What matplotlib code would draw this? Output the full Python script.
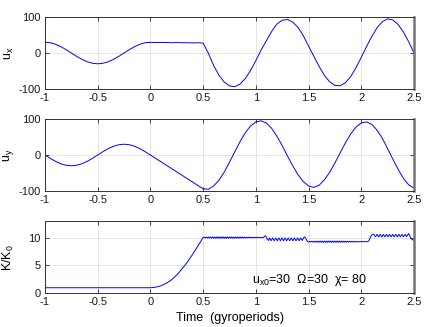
import numpy as np
import matplotlib.pyplot as plt

plt.rcParams['font.family'] = ['Liberation Sans', 'DejaVu Sans']
plt.rcParams['font.size'] = 8
plt.rcParams['axes.unicode_minus'] = False
plt.rcParams['mathtext.fontset'] = 'custom'
plt.rcParams['mathtext.rm'] = 'Liberation Sans'

# sampling times for the velocity components (gyroperiods)
t = np.linspace(-1.0, 2.5, 71)

ux = [30, 28.5, 24.3, 17.6, 9.3, 0, -9.3, -17.6, -24.3, -28.5,
      -30, -28.5, -24.3, -17.6, -9.3, 0, 9.3, 17.6, 24.3, 28.5,
      29.5, 29, 29.5, 29, 28.5, 29, 28.5, 28.5, 28, 28.5,
      27.5, -1, -35, -61.7, -80.6, -91.6, -93.6, -86.5, -71, -48.4,
      -21.1, 8.2, 34, 60, 80.6, 91, 93, 86, 71, 48,
      19, -9, -37, -62, -80, -90, -91.2, -82.5, -65, -40.7,
      -12, 18, 46, 70, 87, 94.8, 91.8, 79, 58, 31,
      0]

uy = [0, -9.3, -17.6, -24.3, -28.5, -30, -28.5, -24.3, -17.6, -9.3,
      0, 9.3, 17.6, 24.3, 28.5, 30, 28.5, 24.3, 17.6, 9.3,
      0, -9.4, -18.8, -28.2, -37.6, -47, -56.4, -65.8, -75.2, -84.6,
      -94, -95, -86, -70, -47.5, -20, 8.8, 37, 62, 80.6,
      92, 94.9, 88.7, 74, 52, 26, -3, -30, -55, -74,
      -86, -90, -84, -69, -48, -22, 6, 34, 58.7, 77.7,
      89, 92, 85, 69, 46, 17.6, -12, -40, -65, -83,
      -92]

# kinetic energy K/K0, stored piecewise: (start time, end time, values)
k_segments = [
    (-1.0, 0.5, [1.0, 1.0, 1.0, 1.0, 1.0, 1.0, 1.0, 1.0, 1.0, 1.0,
                 1.0, 1.0, 1.0, 1.0, 1.0, 1.0, 1.0, 1.0, 1.0, 1.0,
                 1.0, 1.1, 1.35, 1.8, 2.4, 3.3, 4.4, 5.6, 7.0, 8.5,
                 10.05]),
    (0.51, 1.07, [10.1, 9.95, 10.12, 9.93, 10.12, 9.92, 10.13, 9.9, 10.13, 9.9,
                  10.14, 9.89, 10.14, 9.88, 10.15, 9.88, 10.15, 9.88, 10.15, 9.88,
                  10.15, 9.88, 10.15, 9.88, 10.15, 9.88, 10.14, 9.89, 10.14, 9.9,
                  10.13, 9.9, 10.13, 9.91, 10.12, 9.92, 10.12, 9.93, 10.11, 9.94,
                  10.1, 9.95, 10.1, 9.96, 10.08, 9.97, 10.07, 9.98, 10.06, 9.99,
                  10.05, 10.0, 10.04, 10.0, 10.03, 10.0, 10.02]),
    (1.08, 1.12, [10.2, 10.35, 10.1, 9.7, 9.5]),
    (1.13, 1.44, [9.95, 9.45, 9.95, 9.45, 9.95, 9.45, 9.95, 9.45, 9.95, 9.45,
                  9.95, 9.45, 9.95, 9.45, 9.95, 9.45, 9.95, 9.45, 9.95, 9.45,
                  9.95, 9.5]),
    (1.45, 1.50, [9.9, 10.15, 10.0, 9.6, 9.3, 9.2]),
    (1.51, 2.06, [9.35, 9.22, 9.36, 9.2, 9.37, 9.19, 9.38, 9.18, 9.38, 9.17,
                  9.39, 9.17, 9.39, 9.16, 9.4, 9.16, 9.4, 9.16, 9.4, 9.16,
                  9.4, 9.16, 9.4, 9.16, 9.4, 9.16, 9.4, 9.16, 9.39, 9.17,
                  9.39, 9.17, 9.38, 9.18, 9.38, 9.19, 9.37, 9.2, 9.36, 9.21,
                  9.35, 9.22, 9.34, 9.23, 9.33, 9.24, 9.32, 9.25, 9.31, 9.26,
                  9.3, 9.27, 9.3, 9.28, 9.29, 9.3]),
    (2.07, 2.11, [9.4, 9.8, 10.2, 10.5, 10.6]),
    (2.12, 2.43, [10.6, 10.15, 10.6, 10.15, 10.6, 10.15, 10.6, 10.15, 10.6, 10.15,
                  10.6, 10.15, 10.6, 10.15, 10.6, 10.15, 10.6, 10.15, 10.6, 10.15,
                  10.6, 10.2]),
    (2.44, 2.50, [10.5, 10.75, 10.3, 9.9, 9.7, 9.6, 9.5]),
]

xticks = [-1, -0.5, 0, 0.5, 1, 1.5, 2, 2.5]
xticklabels = ['-1', '-0.5', '0', '0.5', '1', '1.5', '2', '2.5']

k_t = np.concatenate([np.linspace(a, b, len(v)) for a, b, v in k_segments])
k_val = np.concatenate([v for a, b, v in k_segments])

fig = plt.figure(figsize=(4.36, 3.27), dpi=100)
left, width = 45 / 436, 369 / 436
boxes = [(17, 89), (119, 191), (221, 293.3)]
axes = [fig.add_axes([left, 1 - b / 327, width, (b - tp) / 327]) for tp, b in boxes]


def style(ax):
    ax.set_xlim(-1, 2.5)
    ax.set_xticks(xticks)
    ax.set_xticklabels(xticklabels)
    ax.grid(True, color='0.88', lw=0.6)
    ax.set_axisbelow(True)
    ax.tick_params(direction='in', top=True, right=True, length=3,
                   width=0.6, color='0.15', labelcolor='0.1', pad=3)
    for s in ax.spines.values():
        s.set_color('0.2')
        s.set_linewidth(0.7)
    ax.spines['right'].set_linewidth(1.8)
    ax.spines['right'].set_color('0.45')


ax1, ax2, ax3 = axes
ax1.plot(t, ux, color='b', lw=0.7)
ax1.set_ylim(-100, 100)
ax1.set_yticks([-100, 0, 100])
ax1.set_ylabel(r'$\mathrm{u}_\mathrm{x}$', fontsize=9, labelpad=2)

ax2.plot(t, uy, color='b', lw=0.7)
ax2.set_ylim(-100, 100)
ax2.set_yticks([-100, 0, 100])
ax2.set_ylabel(r'$\mathrm{u}_\mathrm{y}$', fontsize=9, labelpad=2)

ax3.plot(k_t, k_val, color='b', lw=0.7)
ax3.set_ylim(0, 13)
ax3.set_yticks([0, 5, 10])
ax3.set_ylabel(r'$\mathrm{K/K}_\mathrm{0}$', fontsize=9, labelpad=9)
ax3.set_xlabel('Time  (gyroperiods)', fontsize=9, labelpad=3)
ax3.text(0.96, 1.8, r'$\mathrm{u}_\mathrm{x0}$=30  Ω=30  χ= 80', fontsize=9,
         va='baseline', ha='left')

for ax in axes:
    style(ax)

fig.savefig('out.png', dpi=100)
